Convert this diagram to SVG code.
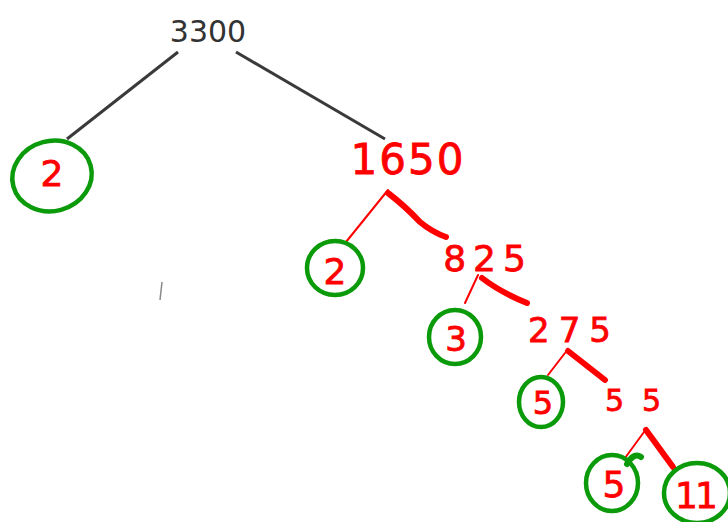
<svg xmlns="http://www.w3.org/2000/svg" width="728" height="522" viewBox="0 0 728 522">
<style>
.num{font-family:"DejaVu Sans","Liberation Sans",sans-serif;fill:#ff0000;text-anchor:middle;stroke:#ff0000;stroke-width:0.8}
.top{font-family:"DejaVu Sans","Liberation Sans",sans-serif;fill:#333;text-anchor:middle;font-size:30px}
.ring{fill:none;stroke:#0a9a0a;stroke-width:4.5}
.thin{stroke:#ff0000;stroke-width:2;fill:none;stroke-linecap:round}
.thick{stroke:#ff0000;stroke-width:6;fill:none;stroke-linecap:round}
.gray{stroke:#3a3a3a;stroke-width:3;fill:none}
</style>
<rect width="728" height="522" fill="#fff"/>
<g id="connectors">
<line class="gray" x1="178" y1="52" x2="67" y2="139"/>
<line class="gray" x1="236" y1="52" x2="385" y2="139"/>
<line class="thin" x1="388" y1="190" x2="346" y2="242"/>
<path class="thick" d="M388 193 Q405 206 420 222 Q432 232 446 237"/>
<line class="thin" x1="478" y1="275" x2="465" y2="303"/>
<path class="thick" d="M482 278 Q500 292 527 303"/>
<line class="thin" x1="565" y1="353" x2="548" y2="375"/>
<line class="thick" x1="568" y1="351" x2="605" y2="380"/>
<line class="thin" x1="644" y1="432" x2="625" y2="458"/>
<line class="thick" x1="646" y1="430" x2="673" y2="467"/>
<line x1="162" y1="282" x2="160" y2="300" stroke="#888" stroke-width="1.5"/>
</g>
<g id="n3300"><text class="top" x="208" y="42">3300</text></g>
<g id="n2a">
<ellipse class="ring" cx="52" cy="176" rx="40" ry="35" transform="rotate(-15 52 176)"/>
<text class="num" x="52" y="186" font-size="36">2</text>
</g>
<g id="n1650"><text class="num" x="408" y="174" font-size="42" letter-spacing="2">1650</text></g>
<g id="n2b">
<ellipse class="ring" cx="335" cy="268" rx="28" ry="27"/>
<text class="num" x="335" y="284" font-size="36">2</text>
</g>
<g id="n825"><text class="num" x="488" y="271" font-size="36" letter-spacing="7">825</text></g>
<g id="n3">
<ellipse class="ring" cx="455" cy="337" rx="26" ry="27"/>
<text class="num" x="456" y="351" font-size="34">3</text>
</g>
<g id="n275"><text class="num" x="574" y="342" font-size="34" letter-spacing="9">275</text></g>
<g id="n5a">
<ellipse class="ring" cx="541" cy="402" rx="22" ry="25"/>
<text class="num" x="543" y="414" font-size="32">5</text>
</g>
<g id="n55"><text class="num" x="642" y="411" font-size="30" letter-spacing="18">55</text></g>
<g id="n5b">
<ellipse class="ring" cx="612" cy="483" rx="26" ry="28"/>
<path d="M627 464 Q634 452 641 457" stroke="#0a9a0a" stroke-width="6" fill="none" stroke-linecap="round"/>
<text class="num" x="614" y="497" font-size="36">5</text>
</g>
<g id="n11">
<ellipse class="ring" cx="697" cy="493" rx="33" ry="30"/>
<text class="num" x="695" y="508" font-size="36" letter-spacing="-3">11</text>
</g>
</svg>
